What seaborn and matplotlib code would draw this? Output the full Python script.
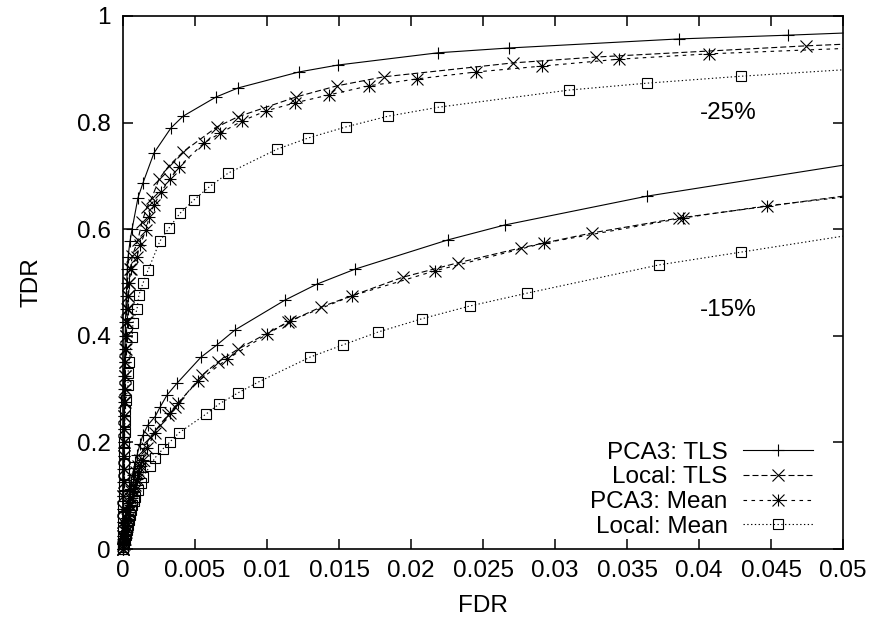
import numpy as np
import pandas as pd
import seaborn as sns
import matplotlib.pyplot as plt
from matplotlib.path import Path
from matplotlib.markers import MarkerStyle
from matplotlib.lines import Line2D

# upper group (-25%)
pca3_tls_hi_x = [0, 0.00001, 0.00001, 0.00002, 0.00002, 0.00003, 0.00003, 0.00004, 0.00005, 0.00006,
                 0.00007, 0.00008, 0.00009, 0.00010, 0.00011, 0.00013, 0.00015, 0.00017, 0.00020, 0.00023,
                 0.00026, 0.00030, 0.00035, 0.00049, 0.00063, 0.00104, 0.00139, 0.00215, 0.00333, 0.00417,
                 0.00646, 0.00799, 0.01222, 0.01493, 0.02188, 0.02681, 0.03861, 0.04618, 0.05]
pca3_tls_hi_y = [0, 0.025, 0.05, 0.075, 0.10, 0.125, 0.15, 0.175, 0.20, 0.225,
                 0.25, 0.275, 0.30, 0.325, 0.35, 0.375, 0.40, 0.425, 0.45, 0.475,
                 0.50, 0.525, 0.548, 0.578, 0.600, 0.659, 0.687, 0.743, 0.790, 0.812,
                 0.848, 0.865, 0.895, 0.908, 0.931, 0.940, 0.957, 0.964, 0.968]

local_tls_hi_x = [0, 0.00001, 0.00002, 0.00002, 0.00003, 0.00004, 0.00005, 0.00006, 0.00007, 0.00008,
                  0.00009, 0.00010, 0.00011, 0.00013, 0.00015, 0.00017, 0.00020, 0.00023, 0.00027, 0.00033,
                  0.00040, 0.00050, 0.00065, 0.00104, 0.00132, 0.00167, 0.00201, 0.00250, 0.00319, 0.00417,
                  0.00653, 0.00799, 0.01201, 0.01486, 0.01813, 0.02708, 0.03285, 0.04743, 0.05]
local_tls_hi_y = [0, 0.025, 0.05, 0.075, 0.10, 0.125, 0.15, 0.175, 0.20, 0.225,
                  0.25, 0.275, 0.30, 0.325, 0.35, 0.375, 0.40, 0.425, 0.45, 0.475,
                  0.50, 0.525, 0.55, 0.580, 0.614, 0.642, 0.659, 0.694, 0.719, 0.745,
                  0.792, 0.811, 0.848, 0.869, 0.886, 0.912, 0.923, 0.944, 0.947]

pca3_mean_hi_x = [0, 0.00001, 0.00002, 0.00003, 0.00003, 0.00004, 0.00005, 0.00006, 0.00007, 0.00008,
                  0.00010, 0.00011, 0.00013, 0.00015, 0.00017, 0.00020, 0.00023, 0.00027, 0.00032, 0.00038,
                  0.00045, 0.00055, 0.00097, 0.00118, 0.00160, 0.00181, 0.00215, 0.00264, 0.00326, 0.00389,
                  0.00563, 0.00674, 0.00826, 0.00993, 0.01194, 0.01431, 0.01708, 0.02042, 0.02451, 0.02910,
                  0.03444, 0.04069, 0.05]
pca3_mean_hi_y = [0, 0.025, 0.05, 0.075, 0.10, 0.125, 0.15, 0.175, 0.20, 0.225,
                  0.25, 0.275, 0.30, 0.325, 0.35, 0.375, 0.40, 0.425, 0.45, 0.475,
                  0.50, 0.525, 0.548, 0.570, 0.598, 0.623, 0.645, 0.670, 0.694, 0.717,
                  0.762, 0.780, 0.803, 0.822, 0.837, 0.852, 0.869, 0.882, 0.895, 0.906,
                  0.919, 0.929, 0.939]

local_mean_hi_x = [0, 0.00001, 0.00001, 0.00002, 0.00003, 0.00004, 0.00005, 0.00006, 0.00007, 0.00008,
                   0.00010, 0.00012, 0.00014, 0.00017, 0.00020, 0.00035, 0.00035, 0.00042, 0.00063, 0.00069,
                   0.00097, 0.00111, 0.00139, 0.00174, 0.00257, 0.00319, 0.00396, 0.00493, 0.00597, 0.00729,
                   0.01069, 0.01285, 0.01549, 0.01840, 0.02194, 0.03097, 0.03639, 0.04292, 0.05]
local_mean_hi_y = [0, 0.02, 0.04, 0.06, 0.08, 0.10, 0.12, 0.14, 0.16, 0.18,
                   0.20, 0.22, 0.24, 0.26, 0.28, 0.308, 0.330, 0.351, 0.398, 0.424,
                   0.450, 0.477, 0.499, 0.523, 0.578, 0.602, 0.630, 0.655, 0.679, 0.705,
                   0.750, 0.771, 0.792, 0.812, 0.829, 0.861, 0.874, 0.887, 0.899]

# lower group (-15%)
pca3_tls_lo_x = [0, 0.00003, 0.00007, 0.00010, 0.00014, 0.00021, 0.00028, 0.00035, 0.00042, 0.00049,
                 0.00056, 0.00066, 0.00076, 0.00086, 0.00097, 0.00118, 0.00139, 0.00174, 0.00222, 0.00257,
                 0.00306, 0.00375, 0.00542, 0.00653, 0.00778, 0.01125, 0.01347, 0.01611, 0.02257, 0.02653,
                 0.03639, 0.05]
pca3_tls_lo_y = [0, 0.010, 0.021, 0.033, 0.045, 0.059, 0.073, 0.086, 0.099, 0.112,
                 0.126, 0.139, 0.152, 0.164, 0.176, 0.197, 0.214, 0.233, 0.248, 0.266,
                 0.289, 0.311, 0.360, 0.383, 0.411, 0.467, 0.497, 0.525, 0.580, 0.608,
                 0.662, 0.720]

local_tls_lo_x = [0, 0.00003, 0.00007, 0.00014, 0.00021, 0.00028, 0.00035, 0.00042, 0.00049, 0.00059,
                  0.00069, 0.00080, 0.00090, 0.00104, 0.00118, 0.00139, 0.00188, 0.00257, 0.00313, 0.00361,
                  0.00549, 0.00660, 0.00799, 0.01146, 0.01375, 0.01944, 0.02326, 0.02764, 0.03257, 0.03861,
                  0.05]
local_tls_lo_y = [0, 0.008, 0.019, 0.031, 0.043, 0.056, 0.069, 0.083, 0.096, 0.108,
                  0.120, 0.132, 0.144, 0.156, 0.167, 0.186, 0.210, 0.233, 0.251, 0.266,
                  0.326, 0.351, 0.375, 0.426, 0.454, 0.510, 0.537, 0.565, 0.593, 0.621,
                  0.662]

pca3_mean_lo_x = [0, 0.00007, 0.00014, 0.00021, 0.00028, 0.00035, 0.00042, 0.00052, 0.00063, 0.00073,
                  0.00083, 0.00097, 0.00111, 0.00125, 0.00139, 0.00167, 0.00222, 0.00326, 0.00382, 0.00521,
                  0.00722, 0.01000, 0.01160, 0.01590, 0.02167, 0.02924, 0.03889, 0.04472, 0.05]
pca3_mean_lo_y = [0, 0.009, 0.019, 0.031, 0.043, 0.056, 0.069, 0.083, 0.096, 0.108,
                  0.120, 0.132, 0.144, 0.156, 0.167, 0.189, 0.218, 0.255, 0.274, 0.315,
                  0.356, 0.403, 0.428, 0.475, 0.522, 0.574, 0.621, 0.644, 0.660]

local_mean_lo_x = [0, 0.00003, 0.00007, 0.00014, 0.00021, 0.00028, 0.00035, 0.00042, 0.00049, 0.00056,
                   0.00063, 0.00073, 0.00083, 0.00104, 0.00125, 0.00139, 0.00188, 0.00222, 0.00278, 0.00326,
                   0.00389, 0.00576, 0.00667, 0.00799, 0.00938, 0.01299, 0.01528, 0.01771, 0.02076, 0.02410,
                   0.02806, 0.03722, 0.04292, 0.05]
local_mean_lo_y = [0, 0.004, 0.009, 0.017, 0.026, 0.035, 0.045, 0.054, 0.064, 0.073,
                   0.083, 0.090, 0.098, 0.111, 0.124, 0.135, 0.156, 0.171, 0.188, 0.201,
                   0.218, 0.253, 0.272, 0.293, 0.313, 0.360, 0.383, 0.407, 0.432, 0.456,
                   0.480, 0.533, 0.557, 0.587]

labels = ['PCA3: TLS', 'Local: TLS', 'PCA3: Mean', 'Local: Mean']
x_ticks = [0, 0.005, 0.01, 0.015, 0.02, 0.025, 0.03, 0.035, 0.04, 0.045, 0.05]
x_tick_labels = ['0', '0.005', '0.01', '0.015', '0.02', '0.025', '0.03', '0.035', '0.04', '0.045', '0.05']
y_ticks = [0, 0.2, 0.4, 0.6, 0.8, 1]
y_tick_labels = ['0', '0.2', '0.4', '0.6', '0.8', '1']

plt.rcParams['font.family'] = ['Liberation Sans', 'DejaVu Sans']
plt.rcParams['font.size'] = 17.5

# gnuplot's "*" point: a plus and a cross on top of each other
star = Path([(-1, 0), (1, 0), (0, -1), (0, 1), (-1, -1), (1, 1), (-1, 1), (1, -1)],
            [Path.MOVETO, Path.LINETO] * 4)

styles = [
    dict(marker='+', markersize=8.6, linestyle='-'),
    dict(marker='x', markersize=8.4, linestyle=(0, (5.4, 2.7))),
    dict(marker=MarkerStyle(star, fillstyle='none'), markersize=8.6, linestyle=(0, (3.2, 4.0))),
    dict(marker='s', markersize=7.6, linestyle=(0, (1.2, 2.2))),
]

groups = [
    [(pca3_tls_hi_x, pca3_tls_hi_y), (local_tls_hi_x, local_tls_hi_y),
     (pca3_mean_hi_x, pca3_mean_hi_y), (local_mean_hi_x, local_mean_hi_y)],
    [(pca3_tls_lo_x, pca3_tls_lo_y), (local_tls_lo_x, local_tls_lo_y),
     (pca3_mean_lo_x, pca3_mean_lo_y), (local_mean_lo_x, local_mean_lo_y)],
]

fig = plt.figure(figsize=(8.72, 6.24), dpi=100)
ax = fig.add_axes([123 / 872, 1 - 549 / 624, 720 / 872, 533 / 624])

for group in groups:
    for (xs, ys), st in zip(group, styles):
        df = pd.DataFrame({'FDR': xs, 'TDR': ys})
        # last point is only where the curve meets the right border, no marker there
        sns.lineplot(data=df, x='FDR', y='TDR', ax=ax, sort=False, estimator=None,
                     color='black', linewidth=0.8, markeredgecolor='black',
                     markerfacecolor='none', markeredgewidth=0.8,
                     markevery=slice(0, len(xs) - 1), clip_on=False, legend=False, **st)

ax.set_xlim(0, 0.05)
ax.set_ylim(0, 1)
ax.set_xticks(x_ticks)
ax.set_xticklabels(x_tick_labels)
ax.set_yticks(y_ticks)
ax.set_yticklabels(y_tick_labels)
ax.tick_params(direction='in', length=7, width=1.1, top=True, right=True, labelsize=17.5)
ax.tick_params(axis='x', pad=8)
ax.tick_params(axis='y', pad=9)
for sp in ax.spines.values():
    sp.set_linewidth(1.2)

ax.set_xlabel('FDR', fontsize=17.5)
ax.set_ylabel('TDR', fontsize=17.5)
ax.xaxis.set_label_coords(0.5, -0.086)
ax.yaxis.set_label_coords(-0.112, 0.5)

ax.text(0.0420, 0.818, '-25%', ha='center', va='center', fontsize=17.5)
ax.text(0.0420, 0.448, '-15%', ha='center', va='center', fontsize=17.5)

handles = [Line2D([], [], color='black', linewidth=0.8, markeredgecolor='black',
                  markerfacecolor='none', markeredgewidth=0.8, **st) for st in styles]
ax.legend(handles, labels, loc='lower right', bbox_to_anchor=(0.958, 0.021),
          frameon=False, markerfirst=False, handlelength=2.88, handletextpad=0.62,
          labelspacing=0.11, borderpad=0, borderaxespad=0, fontsize=17.5, numpoints=1)

fig.savefig('out.png', dpi=100)
